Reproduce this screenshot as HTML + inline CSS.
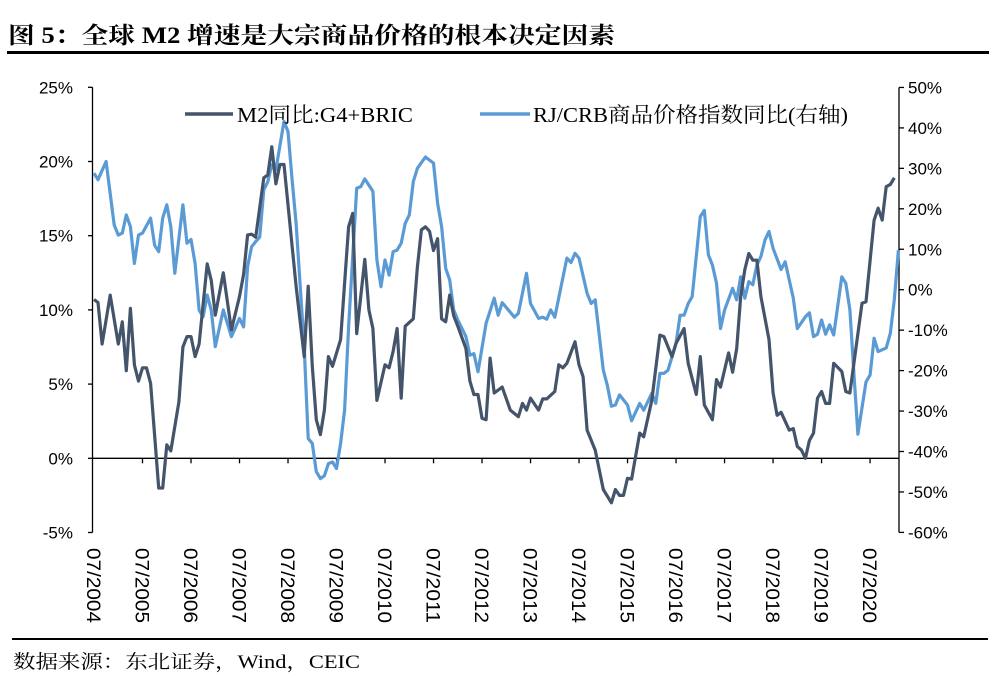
<!DOCTYPE html>
<html><head><meta charset="utf-8">
<style>
body{margin:0;background:#fff;width:996px;height:684px;overflow:hidden}
svg{display:block}
.t{font-family:"Liberation Serif","Noto Serif CJK SC",serif}
.s{font-family:"Liberation Sans","DejaVu Sans",sans-serif}
</style></head><body>
<svg id="chart" width="996" height="684">
<text x="8" y="43" class="t" font-size="23" font-weight="bold" textLength="607" lengthAdjust="spacingAndGlyphs">图 5：全球 M2 增速是大宗商品价格的根本决定因素</text>
<rect x="7" y="51" width="982" height="3" fill="#000"/>
<rect x="12" y="638" width="976" height="2" fill="#000"/>
<text x="13" y="668" class="t" font-size="19" textLength="347" lengthAdjust="spacingAndGlyphs">数据来源：东北证券，Wind，CEIC</text>
<g id="axes"></g>
<g id="lines"></g>
<g>
<line x1="185" y1="114" x2="233" y2="114" stroke="#44546a" stroke-width="3.5"/>
<text x="237" y="122" class="t" font-size="21" textLength="176" lengthAdjust="spacingAndGlyphs">M2同比:G4+BRIC</text>
<line x1="480" y1="114" x2="530" y2="114" stroke="#5b9bd5" stroke-width="3.5"/>
<text x="533" y="122" class="t" font-size="21" textLength="315" lengthAdjust="spacingAndGlyphs">RJ/CRB商品价格指数同比(右轴)</text>
</g>
</svg>
<script>
// month offsets from 07/2004
const m2Months=[0,1,2,4,6,7,8,9,10,11,12,13,14,16,17,18,19,21,22,23,24,25,26,28,29,30,32,34,36,37,38,39,40,42,43,44,45,46,47,50,52,53,54,55,56,57,58,59,61,63,64,65,67,68,69,70,72,73,74,75,76,77,79,80,81,82,83,84,85,86,87,88,89,90,92,93,94,95,96,97,98,99,101,103,105,106,107,108,110,111,112,114,115,116,117,119,120,121,122,124,126,128,129,130,131,132,133,135,136,138,140,141,143,144,146,147,149,150,151,153,154,155,157,158,159,160,161,162,163,164,165,167,168,169,170,172,173,174,175,176,177,178,179,180,181,182,183,185,186,187,190,191,193,194,195,196,197,198];
const m2Values=[10.7,10.5,7.7,11,7.7,9.2,5.9,10.1,6.3,5.2,6.1,6.1,5.05,-2.0,-2.0,0.9,0.5,3.8,7.5,8.2,8.2,6.85,7.7,13.1,12,9.65,12.5,8.65,10.9,12.4,15.05,15.1,14.9,18.9,19.1,21,18.5,19.8,19.8,11.6,6.85,11.6,6.2,2.6,1.6,3.25,6.85,6.2,8.0,15.6,16.5,8.4,13.4,10,8.75,3.9,6.3,6.1,7.2,8.75,4.05,8.9,9.4,12.9,15.4,15.6,15.3,14.0,14.8,9.4,9.2,11,9.6,8.9,7.4,5.2,4.3,4.3,2.7,2.6,6.75,4.4,4.8,3.25,2.8,3.7,3.25,4.05,3.25,4.0,4.0,4.5,6.3,6.1,6.4,7.85,6.3,5.5,1.9,0.55,-2.1,-3.0,-2.1,-2.5,-2.5,-1.35,-1.4,1.7,1.45,3.9,8.3,8.2,6.85,7.75,8.75,6.4,4.3,6.85,3.6,2.6,5.3,4.8,7.1,5.8,7.4,10.9,12.7,13.8,13.35,13.35,10.9,8.0,4.4,2.9,3.1,1.9,2.0,0.8,0.55,0,1.2,1.7,4.05,4.5,3.7,3.7,6.4,5.85,4.5,4.4,10.45,10.55,16.05,16.85,16.05,18.3,18.45,18.9];
const crbMonths=[0,1,3,5,6,7,8,9,10,11,12,14,15,16,17,18,19,20,22,23,24,25,26,27,28,29,30,32,34,36,37,38,39,40,41,42,43,44,45,47,48,49,50,52,53,54,55,56,57,58,59,60,61,62,63,65,66,67,69,70,71,72,73,74,75,76,77,78,79,80,82,84,85,86,87,88,89,90,92,93,94,95,97,99,100,101,104,105,107,108,110,111,112,113,114,117,118,119,120,122,123,124,126,127,128,129,130,132,133,135,136,138,139,140,141,142,144,145,146,147,148,150,151,152,153,154,155,156,158,159,160,161,162,163,164,165,166,167,168,170,171,173,174,176,177,178,179,180,181,182,183,185,186,187,188,189,191,192,193,194,196,197,198,199];
const crbValues=[28.8,27.2,31.7,16,13.5,14,18.5,15.6,6.5,13.5,14,17.7,11,9.4,17.7,21,15.6,4.05,21,11.5,12.4,6.5,-5,-6.7,-1.3,-5,-14.1,-5,-11.6,-7.1,-9.2,5.7,10.6,11.9,13,24.7,26.7,30.9,29.7,41.6,39.1,27.2,16.4,-14.1,-36.8,-38,-45,-46.7,-46,-43,-42.6,-44.2,-38,-29.8,-9.2,25.1,25.5,27.4,24.3,7.35,0.75,7.35,3.6,9.4,9.8,11.5,16.4,18.5,26.7,30,32.8,31.3,21.4,15.6,5.3,2.4,-5,-7.5,-11.6,-16.2,-15.8,-20.3,-8.3,-2.1,-6.3,-3.2,-6.8,-5.8,4.05,-3.4,-7.1,-6.8,-7.3,-5,-6.8,7.8,6.7,9.0,7.8,-0.9,-3.4,-2.5,-19.9,-23.6,-28.8,-28.5,-26,-28.5,-32.4,-28.1,-29.8,-25.6,-28.1,-20.7,-20.7,-19.9,-13.3,-6.3,-6.3,-3.4,-1.7,18.1,19.6,8.6,6.1,1.6,-9.6,-5,0.35,-2.5,3.2,-2.1,2.0,1.2,6.1,8.2,12.3,14.4,10.2,5.0,6.9,-2.1,-9.6,-6.7,-5.7,-11.6,-11,-7.5,-11,-8.7,-11.2,3.2,1.6,-5,-20.7,-35.7,-22.8,-21.1,-12,-15.3,-14.4,-10.8,-2.5,9.8];
const leftTicks=[25,20,15,10,5,0,-5];
const rightTicks=[50,40,30,20,10,0,-10,-20,-30,-40,-50,-60];
const yearLabels=["07/2004","07/2005","07/2006","07/2007","07/2008","07/2009","07/2010","07/2011","07/2012","07/2013","07/2014","07/2015","07/2016","07/2017","07/2018","07/2019","07/2020"];

const NS="http://www.w3.org/2000/svg";
const X=m=>94+m*4.042;
const YL=v=>458.3-v*14.84;
const YR=v=>289.7-v*4.045;
function mk(tag,attrs,parent){const e=document.createElementNS(NS,tag);for(const k in attrs)e.setAttribute(k,attrs[k]);parent.appendChild(e);return e;}
const axes=document.getElementById('axes'), lines=document.getElementById('lines');
let e;
e=mk('line',{x1:92.5,y1:YL(25),x2:92.5,y2:YL(-5),stroke:'#000','stroke-width':1.3},axes);


e=mk('line',{x1:899,y1:YR(50),x2:899,y2:YR(-60),stroke:'#000','stroke-width':1.3},axes);


e=mk('line',{x1:92.5,y1:YL(0),x2:899,y2:YL(0),stroke:'#000','stroke-width':1.3},axes);


leftTicks.forEach(v=>{
  mk('line',{x1:88,y1:YL(v),x2:92.5,y2:YL(v),stroke:'#000','stroke-width':1.3},axes);
  e=mk('text',{x:73,y:YL(v)+6,'text-anchor':'end','font-size':17,class:'s'},axes);
  e.textContent=v+'%';
  
  
});
rightTicks.forEach(v=>{
  mk('line',{x1:899,y1:YR(v),x2:904,y2:YR(v),stroke:'#000','stroke-width':1.3},axes);
  e=mk('text',{x:908,y:YR(v)+6,'font-size':17,class:'s'},axes);
  e.textContent=v+'%';
  
  
});
yearLabels.forEach((lab,i)=>{
  const x=X(i*12);
  if(i>0) mk('line',{x1:x,y1:YL(0),x2:x,y2:YL(0)+5,stroke:'#000','stroke-width':1.3},axes);
  e=mk('text',{x:0,y:0,'font-size':19,class:'s',textLength:75,lengthAdjust:'spacingAndGlyphs',transform:`translate(${x-7},548) rotate(90)`},axes);
  e.textContent=lab;
  
  
});
function path(ms,vs,yf){return ms.map((m,i)=>(i?'L':'M')+X(m).toFixed(1)+','+yf(vs[i]).toFixed(1)).join('');}
e=mk('path',{d:path(crbMonths,crbValues,YR),fill:'none',stroke:'#5b9bd5','stroke-width':3.2,'stroke-linejoin':'round'},lines);


e=mk('path',{d:path(m2Months,m2Values,YL),fill:'none',stroke:'#44546a','stroke-width':3.2,'stroke-linejoin':'round'},lines);


</script>
</body></html>
